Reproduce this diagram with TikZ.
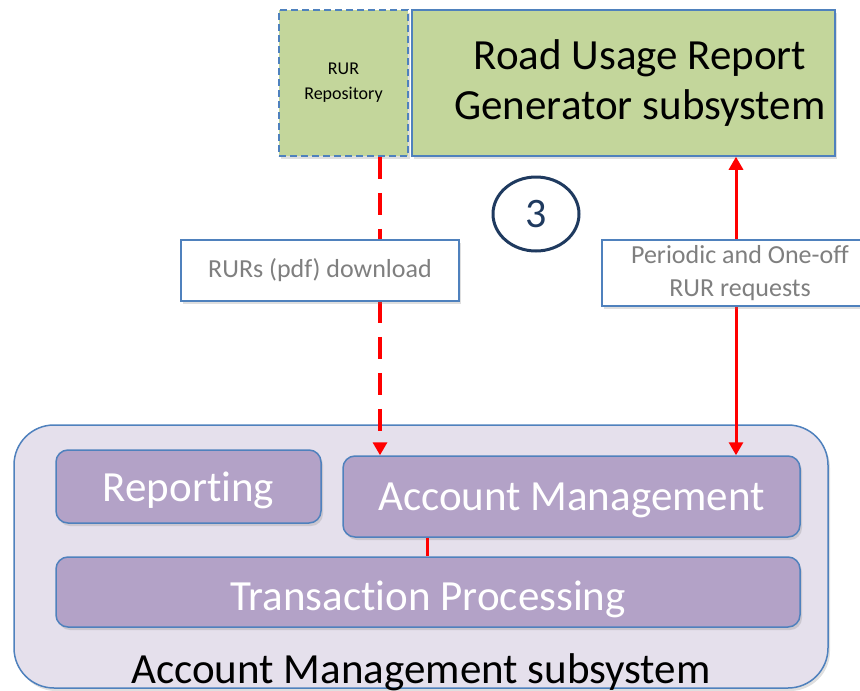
\documentclass[tikz,border=0pt]{standalone}
\usepackage{fontspec}
\setmainfont[Ligatures=NoCommon]{Carlito}
\usetikzlibrary{shapes.geometric,shadows,arrows.meta}
\definecolor{gfill}{HTML}{C3D69B}
\definecolor{bblue}{HTML}{4F81BD}
\definecolor{pfill}{HTML}{B3A2C7}
\definecolor{ofill}{HTML}{E5E0EC}
\definecolor{navy}{HTML}{1F3A5F}
\definecolor{lgray}{HTML}{7F7F7F}
\tikzset{
  shad/.style={drop shadow={shadow xshift=2pt,shadow yshift=-3pt,opacity=0.25}},
  greenbox/.style={draw=bblue,line width=1.5pt,fill=gfill,inner sep=0pt,shad},
  labelbox/.style={draw=bblue,line width=1.5pt,fill=white,inner sep=0pt,shad,text=lgray,font=\fontsize{26}{33}\selectfont,align=center},
  purplebox/.style={draw=bblue,line width=1.5pt,fill=pfill,rounded corners=12pt,inner sep=0pt,shad,text=white,font=\fontsize{43}{50}\selectfont},
  redline/.style={draw=red,line width=3pt},
  tip/.style={-{Triangle[length=13pt,width=14pt]}},
  bigtxt/.style={font=\fontsize{43}{50}\selectfont,align=center,inner sep=0pt}
}
\begin{document}
\begin{tikzpicture}[x=1pt,y=-1pt]
\useasboundingbox (0,0) rectangle (860,691);
% outer subsystem
\node[draw=bblue,line width=1.5pt,fill=ofill,rounded corners=40pt,minimum width=814pt,minimum height=263pt,inner sep=0pt,shad] (outer) at (421,556.5) {};
\node[bigtxt,anchor=base] (outertxt) at (421,683) {Account Management subsystem};
% top boxes
\node[greenbox,dashed,dash pattern=on 7pt off 4pt,minimum width=129pt,minimum height=146pt,align=center,font=\fontsize{18}{25}\selectfont] (repo) at (343.5,83) {RUR\\Repository};
\node[greenbox,minimum width=423pt,minimum height=146pt] (gen) at (623.5,83) {};
\node[bigtxt] (gentxt) at (640,83) {Road Usage Report\\Generator subsystem};
% inner boxes
\node[purplebox,minimum width=265pt,minimum height=73pt,text height=30pt,text depth=0pt] (rep) at (188.5,486.5) {Reporting};
\node[purplebox,minimum width=457pt,minimum height=81pt,text height=30pt,text depth=3pt] (am) at (571.5,496.5) {Account Management};
\node[purplebox,minimum width=744pt,minimum height=70pt,text height=36pt,text depth=0pt] (tp) at (428,592) {Transaction Processing};
% connectors
\draw[redline,line width=4pt,dash pattern=on 22pt off 14pt,tip] ([xshift=36.5pt]repo.south) -- ([xshift=36.5pt]repo.south |- am.north);
\draw[redline,{Triangle[length=13pt,width=14pt]}-{Triangle[length=13pt,width=14pt]}] ([xshift=112.5pt]gen.south) -- ([xshift=112.5pt]gen.south |- am.north);
\draw[redline] ([xshift=-144.5pt]am.south) -- ([xshift=-144.5pt]am.south |- tp.north);
% labels
\node[labelbox,minimum width=278pt,minimum height=61pt] (lab1) at (320,270.5) {RURs (pdf) download};
\node[labelbox,minimum width=276pt,minimum height=66pt] (lab2) at (740,273) {Periodic and One-off\\RUR requests};
% step number
\node[ellipse,draw=navy,line width=3pt,minimum width=86pt,minimum height=74pt,inner sep=0pt,font=\fontsize{42}{48}\selectfont,text=navy] (three) at (536,214) {3};
\end{tikzpicture}
\end{document}
